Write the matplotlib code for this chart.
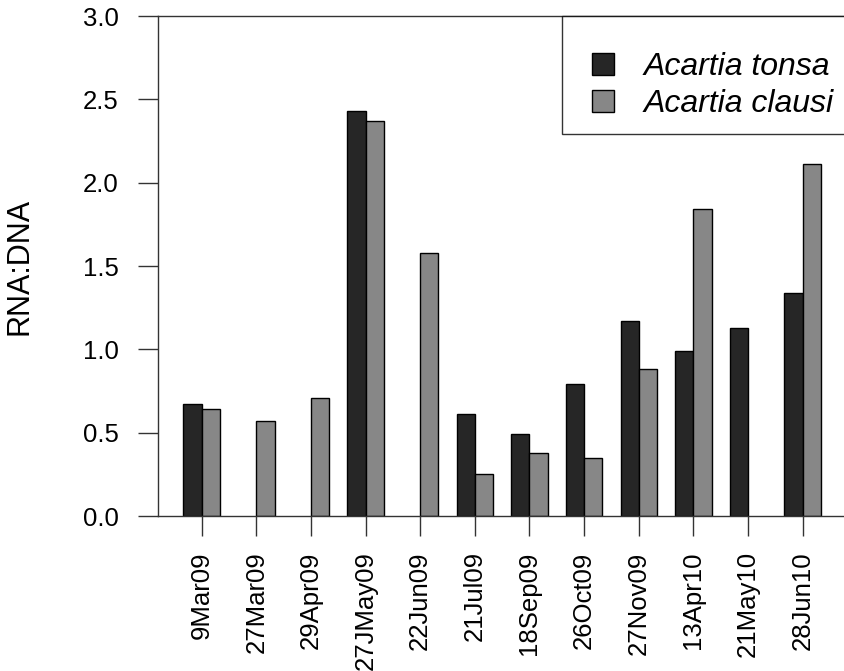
import matplotlib.pyplot as plt
from matplotlib.lines import Line2D
import numpy as np

plt.rcParams['font.family'] = ['Liberation Sans', 'DejaVu Sans']

dates = ["9Mar09", "27Mar09", "29Apr09", "27JMay09", "22Jun09", "21Jul09",
         "18Sep09", "26Oct09", "27Nov09", "13Apr10", "21May10", "28Jun10"]
tonsa = [0.67, None, None, 2.43, None, 0.61, 0.49, 0.79, 1.17, 0.99, 1.13, 1.34]
clausi = [0.64, 0.57, 0.71, 2.37, 1.58, 0.25, 0.38, 0.35, 0.88, 1.84, None, 2.11]
species = ["Acartia tonsa", "Acartia clausi"]
colors = ["#262626", "#878787"]

tonsa = np.array([np.nan if v is None else v for v in tonsa])
clausi = np.array([np.nan if v is None else v for v in clausi])

# barplot-style layout: bars of width 1, one empty unit between groups
centers = np.arange(len(dates)) * 3 + 2

fig = plt.figure(figsize=(8.44, 6.71), dpi=100)
ax = fig.add_axes([158 / 844, 1 - 516 / 671, 690 / 844, 500 / 671])

ax.bar(centers - 0.5, tonsa, width=1, color=colors[0], edgecolor="black", linewidth=1)
ax.bar(centers + 0.5, clausi, width=1, color=colors[1], edgecolor="black", linewidth=1)

ax.set_xlim(-0.4, -0.4 + 690 / 18.21)
ax.set_ylim(0, 3.0)
yt = np.arange(0, 3.01, 0.5)
ax.set_yticks(yt)
ax.set_yticklabels([f"{v:.1f}" for v in yt])
ax.set_xticks(centers)
ax.set_xticklabels(dates, rotation=90)

for s in ax.spines.values():
    s.set_color("#333333")
    s.set_linewidth(1)
ax.tick_params(axis="y", length=14.4, width=1, color="#333333", labelsize=18.5, pad=14)
ax.tick_params(axis="x", length=14.4, width=1, color="#333333", labelsize=18.5, pad=11)

ax.set_ylabel("RNA:DNA", fontsize=22, labelpad=35)

handles = [Line2D([], [], linestyle="none", marker="s", markersize=16,
                  markerfacecolor=c, markeredgecolor="black", markeredgewidth=1)
           for c in colors]
leg = ax.legend(handles, species, loc="upper right",
                bbox_to_anchor=(1.0, 1.0), prop={"style": "italic", "size": 23},
                fancybox=False, edgecolor="black", handlelength=1.66,
                handletextpad=0.45, borderpad=0.45, labelspacing=0.22,
                borderaxespad=0, title=" ", title_fontsize=12)
leg.get_frame().set_linewidth(1)

plt.savefig("out.png", dpi=100)
